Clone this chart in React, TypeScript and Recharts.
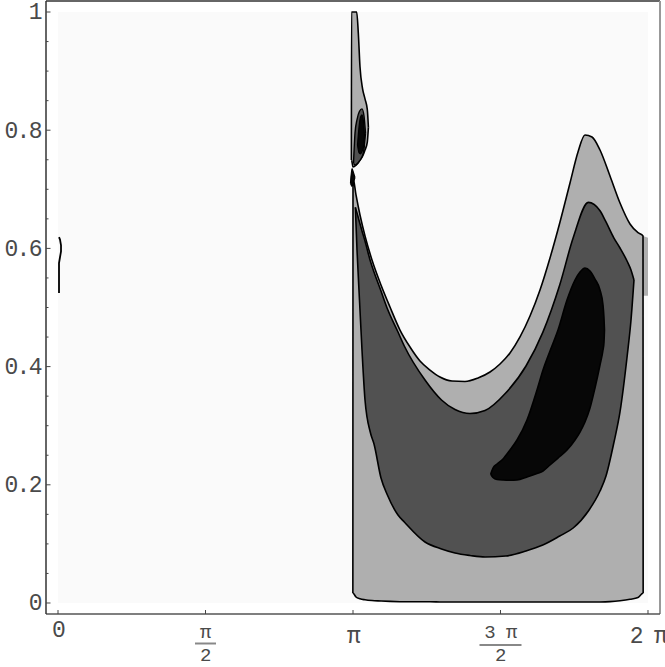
import React from 'react';
import { ComposedChart, Area, Line, XAxis, YAxis, ReferenceLine } from 'recharts';

// x is expressed in units of π (0 .. 2 means 0 .. 2π)
const X_MIN = -0.04068;
const X_MAX = 2.04068;
const Y_MIN = -0.018613;
const Y_MAX = 1.018613;

const xTicks = [0, 0.5, 1, 1.5, 2];
const yTicks = [0, 0.05, 0.1, 0.15, 0.2, 0.25, 0.3, 0.35, 0.4, 0.45, 0.5, 0.55, 0.6, 0.65, 0.7, 0.75, 0.8, 0.85, 0.9, 0.95, 1];
const yMajorLabels = ['0', '0.2', '0.4', '0.6', '0.8', '1'];

// background plot range
const bgX = [0, 2];
const bgLo = [0, 0];
const bgHi = [1, 1];

// light grey contour region
const lightX = [0.9995, 1.0, 1.0102, 1.0237, 1.0407, 1.0644, 1.0949, 1.1254, 1.1593, 1.1932, 1.2271, 1.261, 1.2949, 1.3356, 1.3797, 1.4237, 1.4644, 1.4983, 1.5322, 1.5661, 1.6, 1.6339, 1.6678, 1.7017, 1.7356, 1.7627, 1.7864, 1.8102, 1.8373, 1.8712, 1.9051, 1.939, 1.9661, 1.9831, 1.9836];
const lightLo = [0.0164, 0.0164, 0.0102, 0.0071, 0.0054, 0.0041, 0.0034, 0.0027, 0.0022, 0.002, 0.002, 0.002, 0.0018, 0.0017, 0.0017, 0.0017, 0.0017, 0.0017, 0.0017, 0.0017, 0.0017, 0.0017, 0.0017, 0.0017, 0.0017, 0.0017, 0.0017, 0.0017, 0.0018, 0.0024, 0.0039, 0.0063, 0.0093, 0.0164, 0.0164];
const lightHi = [0.0164, 0.7191, 0.6904, 0.6565, 0.621, 0.5804, 0.5381, 0.5008, 0.4619, 0.4332, 0.4095, 0.3942, 0.3824, 0.3756, 0.3748, 0.3807, 0.3909, 0.4044, 0.423, 0.4501, 0.4856, 0.5296, 0.5838, 0.6447, 0.7107, 0.7631, 0.7919, 0.7885, 0.7665, 0.7225, 0.6768, 0.6413, 0.6265, 0.621, 0.0164];

// light grey patch at the right border (no contour line)
const edgePatchX = [1.9831, 2.0];
const edgePatchLo = [0.52, 0.52];
const edgePatchHi = [0.621, 0.618];

// thin light spike above π
const spikeX = [0.9945, 0.9949, 1.0, 1.0125, 1.018, 1.0237, 1.0325, 1.0407, 1.0485, 1.0522];
const spikeLo = [0.7496, 0.7496, 0.7377, 0.742, 0.745, 0.7496, 0.756, 0.7665, 0.78, 0.805];
const spikeHi = [0.7496, 1.0, 1.0, 1.0, 0.9645, 0.9074, 0.87, 0.853, 0.835, 0.805];

const darkSpikeX = [1.0017, 1.0068, 1.0136, 1.022, 1.0305, 1.0373, 1.0424];
const darkSpikeLo = [0.744, 0.741, 0.743, 0.748, 0.755, 0.768, 0.795];
const darkSpikeHi = [0.744, 0.795, 0.818, 0.832, 0.836, 0.824, 0.795];

const blackSpikeX = [1.0153, 1.0203, 1.0254, 1.0305, 1.0356, 1.039];
const blackSpikeLo = [0.775, 0.762, 0.76, 0.764, 0.772, 0.79];
const blackSpikeHi = [0.775, 0.805, 0.822, 0.826, 0.815, 0.79];

const cuspX = [0.9915, 0.9966, 1.0017, 1.0068];
const cuspLo = [0.71, 0.705, 0.712, 0.72];
const cuspHi = [0.71, 0.735, 0.728, 0.72];

// dark grey contour region
const darkX = [1.008, 1.0136, 1.022, 1.0305, 1.0407, 1.0593, 1.0712, 1.0949, 1.1166, 1.1525, 1.1739, 1.2441, 1.3, 1.3458, 1.3966, 1.4475, 1.5176, 1.5864, 1.6434, 1.7007, 1.7464, 1.798, 1.8373, 1.8576, 1.8841, 1.9051, 1.9298, 1.9424, 1.9525];
const darkLo = [0.6694, 0.5973, 0.5127, 0.4281, 0.3435, 0.2876, 0.269, 0.2115, 0.1827, 0.1489, 0.1371, 0.1032, 0.0914, 0.0846, 0.0804, 0.0778, 0.0795, 0.088, 0.0981, 0.1134, 0.1269, 0.1557, 0.1895, 0.2149, 0.2707, 0.3232, 0.4196, 0.4788, 0.5465];
const darkHi = [0.6694, 0.6599, 0.6447, 0.6294, 0.6125, 0.5778, 0.5601, 0.5279, 0.4978, 0.4585, 0.4349, 0.3773, 0.3435, 0.3274, 0.3206, 0.3257, 0.3553, 0.401, 0.4579, 0.5381, 0.6179, 0.6778, 0.6636, 0.6447, 0.6179, 0.6007, 0.5778, 0.5635, 0.5465];

// black contour region (crescent)
const blackX = [1.4668, 1.4746, 1.4881, 1.5085, 1.5322, 1.5559, 1.5898, 1.6237, 1.6441, 1.6678, 1.6949, 1.7254, 1.7525, 1.7695, 1.7864, 1.8034, 1.8203, 1.8373, 1.8475, 1.8508, 1.8525];
const blackLo = [0.2183, 0.2124, 0.209, 0.2081, 0.2078, 0.2081, 0.2132, 0.2191, 0.2234, 0.2335, 0.2453, 0.2589, 0.2758, 0.2893, 0.3063, 0.3299, 0.3638, 0.4027, 0.4281, 0.441, 0.4619];
const blackHi = [0.2183, 0.2284, 0.2352, 0.2437, 0.2589, 0.2758, 0.3096, 0.3604, 0.3942, 0.4264, 0.4619, 0.5127, 0.5465, 0.5601, 0.5668, 0.5618, 0.5482, 0.5296, 0.5042, 0.482, 0.4619];

// small contour line at the left border
const edgeLineX = [0.0034, 0.0034, 0.0034, 0.0068, 0.0102, 0.0102, 0.0068, 0.0034];
const edgeLineY = [0.5245, 0.55, 0.575, 0.585, 0.595, 0.605, 0.615, 0.619];

const band = (xs: number[], lo: number[], hi: number[]) => xs.map((x, i) => ({ x, r: [lo[i], hi[i]] }));
const path = (xs: number[], ys: number[]) => xs.map((x, i) => ({ x, y: ys[i] }));

const FONT = '"Liberation Mono", "Courier New", monospace';
const TXT = '#4a4a4a';

const YTick = (props: any) => {
  const { x, y, payload } = props;
  const v = payload.value;
  const idx = Math.round(v / 0.2);
  const major = Math.abs(v - idx * 0.2) < 1e-6;
  return (
    <g>
      <line x1={x} x2={x + (major ? 4.5 : 2.5)} y1={y} y2={y} stroke="#444" strokeWidth={1} />
      {major && (
        <text x={x - 5} y={y + 7.3} textAnchor="end" fontFamily={FONT} fontSize={23} letterSpacing={-1.6} fill={TXT}>
          {yMajorLabels[idx]}
        </text>
      )}
    </g>
  );
};

const XTick = (props: any) => {
  const { x, y, payload } = props;
  const v = payload.value;
  const t = { fontFamily: FONT, fontSize: 23, letterSpacing: -1.6, fill: TXT, textAnchor: 'middle' as const };
  const f = { fontFamily: FONT, fontSize: 19, letterSpacing: -0.6, fill: TXT, textAnchor: 'middle' as const };
  let label: React.ReactNode = null;
  if (v === 0) {
    label = <text x={x} y={y + 23.3} {...t}>0</text>;
  } else if (v === 0.5) {
    label = (
      <g>
        <text x={x} y={y + 23.5} {...f}>π</text>
        <line x1={x - 10.5} x2={x + 10.5} y1={y + 29.5} y2={y + 29.5} stroke="#888" strokeWidth={2} />
        <text x={x} y={y + 46.5} {...f}>2</text>
      </g>
    );
  } else if (v === 1) {
    label = <text x={x} y={y + 29} {...t}>π</text>;
  } else if (v === 1.5) {
    label = (
      <g>
        <text x={x} y={y + 23.5} {...f}>3 π</text>
        <line x1={x - 21} x2={x + 21} y1={y + 31} y2={y + 31} stroke="#888" strokeWidth={2} />
        <text x={x} y={y + 46.5} {...f}>2</text>
      </g>
    );
  } else if (v === 2) {
    label = <text x={x} y={y + 29} {...t}>2 π</text>;
  }
  return (
    <g>
      <line x1={x} x2={x} y1={y} y2={y - 4} stroke="#444" strokeWidth={1} />
      {label}
    </g>
  );
};

const areaCommon = {
  type: 'monotone' as const,
  dataKey: 'r',
  fillOpacity: 1,
  isAnimationActive: false,
  dot: false,
  activeDot: false,
};

export default function App() {
  return (
    <div style={{ position: 'absolute', left: 0, top: 0, background: '#fff' }}>
      <ComposedChart width={665} height={667} margin={{ top: 1, right: 5, bottom: 0, left: 0 }}>
        <XAxis
          type="number"
          dataKey="x"
          domain={[X_MIN, X_MAX]}
          allowDataOverflow
          ticks={xTicks}
          interval={0}
          height={53}
          tickSize={0}
          tickMargin={0}
          tickLine={false}
          axisLine={{ stroke: '#555', strokeWidth: 1.5 }}
          tick={<XTick />}
        />
        <YAxis
          type="number"
          domain={[Y_MIN, Y_MAX]}
          allowDataOverflow
          ticks={yTicks}
          interval={0}
          width={46}
          tickSize={0}
          tickMargin={0}
          tickLine={false}
          axisLine={{ stroke: '#333', strokeWidth: 1.5 }}
          tick={<YTick />}
        />
        <Area {...areaCommon} type="linear" data={band(bgX, bgLo, bgHi)} fill="#fafafa" stroke="none" />
        <Area {...areaCommon} type="linear" data={band(edgePatchX, edgePatchLo, edgePatchHi)} fill="#afafaf" stroke="none" />
        <Area {...areaCommon} data={band(lightX, lightLo, lightHi)} fill="#afafaf" stroke="#000" strokeWidth={1.6} />
        <Area {...areaCommon} data={band(spikeX, spikeLo, spikeHi)} fill="#afafaf" stroke="#000" strokeWidth={1.6} />
        <Area {...areaCommon} data={band(darkSpikeX, darkSpikeLo, darkSpikeHi)} fill="#515151" stroke="#000" strokeWidth={1.4} />
        <Area {...areaCommon} data={band(blackSpikeX, blackSpikeLo, blackSpikeHi)} fill="#070707" stroke="#000" strokeWidth={1.2} />
        <Area {...areaCommon} data={band(cuspX, cuspLo, cuspHi)} fill="#070707" stroke="#000" strokeWidth={1.2} />
        <Area {...areaCommon} data={band(darkX, darkLo, darkHi)} fill="#515151" stroke="#000" strokeWidth={1.6} />
        <Area {...areaCommon} data={band(blackX, blackLo, blackHi)} fill="#070707" stroke="#000" strokeWidth={1.6} />
        <Line
          data={path(edgeLineX, edgeLineY)}
          dataKey="y"
          type="linear"
          stroke="#000"
          strokeWidth={1.8}
          dot={false}
          activeDot={false}
          isAnimationActive={false}
        />
        <ReferenceLine y={Y_MAX} stroke="#333" strokeWidth={1.5} />
        <ReferenceLine x={X_MAX} stroke="#999" strokeWidth={2} />
      </ComposedChart>
    </div>
  );
}
